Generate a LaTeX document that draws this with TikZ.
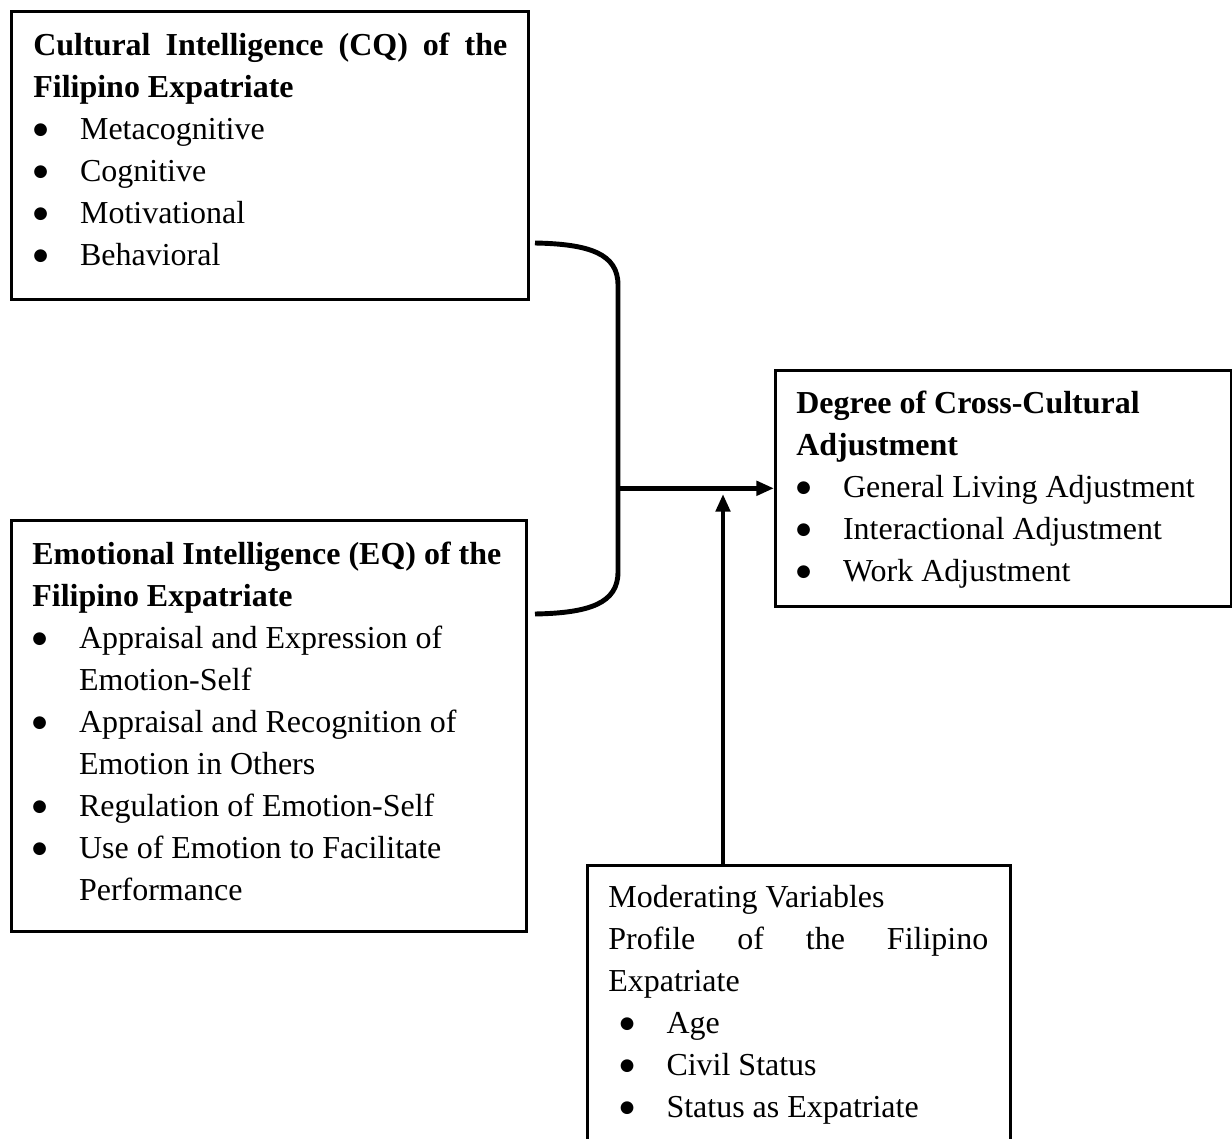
\documentclass[tikz,border=0pt]{standalone}
\usepackage{fontspec}
\setmainfont{Liberation Serif}
\newfontfamily\symfont{DejaVu Sans}
\usetikzlibrary{arrows.meta}
\newcommand{\bdot}{\raisebox{2.5pt}{\symfont\fontsize{9.5}{9.5}\selectfont ●}}
\newcommand{\bitem}[2][0pt]{\hspace*{#1}\makebox[26.6pt][l]{\bdot}#2}
\newcommand{\bmore}[1]{\hspace*{26.6pt}#1}

\begin{document}
\begin{tikzpicture}[x=0.02cm, y=-0.02cm,
  frame/.style={draw, line width=1.5pt, inner sep=0pt, anchor=north west},
  txt/.style={anchor=north west, inner sep=0pt, align=left,
    font=\fontsize{18.2}{23.9}\selectfont,
    execute at begin node={\spaceskip=0pt\xspaceskip=0pt}},
  link/.style={line width=2.8pt},
  tip/.style={-{Triangle[length=10pt,width=8pt]}}]
  \useasboundingbox (0,0) rectangle (1232,1139);
  % boxes
  \node[frame, minimum width=10.34cm, minimum height=5.76cm] (cq) at (10,10) {};
  \node[frame, minimum width=10.3cm, minimum height=8.22cm] (eq) at (10,519) {};
  \node[frame, minimum width=9.12cm, minimum height=4.72cm] (deg) at (774,369) {};
  \node[frame, minimum width=8.46cm, minimum height=6cm] (mod) at (586,864) {};
  % texts
  \node[txt, text width=9.48cm] (cqtxt) at (33,25.6) {%
    \strut\textbf{\makebox[9.48cm][s]{Cultural Intelligence (CQ) of the}}\\
    \textbf{Filipino Expatriate}\\
    \bitem{Metacognitive}\\
    \bitem{Cognitive}\\
    \bitem{Motivational}\\
    \bitem{Behavioral}};
  \node[txt, text width=9.6cm] (eqtxt) at (32,534.6) {%
    \strut\textbf{Emotional Intelligence (EQ) of the}\\
    \textbf{Filipino Expatriate}\\
    \bitem{Appraisal and Expression of}\\
    \bmore{Emotion-Self}\\
    \bitem{Appraisal and Recognition of}\\
    \bmore{Emotion in Others}\\
    \bitem{Regulation of Emotion-Self}\\
    \bitem{Use of Emotion to Facilitate}\\
    \bmore{Performance}};
  \node[txt, text width=8.6cm] (degtxt) at (796,383.6) {%
    \strut\textbf{Degree of Cross-Cultural}\\
    \textbf{Adjustment}\\
    \bitem{General Living Adjustment}\\
    \bitem{Interactional Adjustment}\\
    \bitem{Work Adjustment}};
  \node[txt, text width=7.6cm] (modtxt) at (608,877.6) {%
    \strut Moderating Variables\\
    \makebox[7.6cm][s]{Profile of the Filipino}\\
    Expatriate\\
    \bitem[6.5pt]{Age}\\
    \bitem[6.5pt]{Civil Status}\\
    \bitem[6.5pt]{Status as Expatriate}};
  % connectors
  \coordinate (cqend) at (535,243);
  \coordinate (eqend) at (535,614);
  \coordinate (join) at (616,0 |- deg.west);
  \coordinate (meet) at (723,494);
  \draw[link] (cqend) .. controls (590,244) and (618,254) .. (618,285)
    -- (618,572) .. controls (618,603) and (590,613) .. (eqend);
  \draw[link, tip] (join) -- (deg.west);
  \draw[link, tip] (mod.north -| meet) -- (meet);
\end{tikzpicture}
\end{document}
